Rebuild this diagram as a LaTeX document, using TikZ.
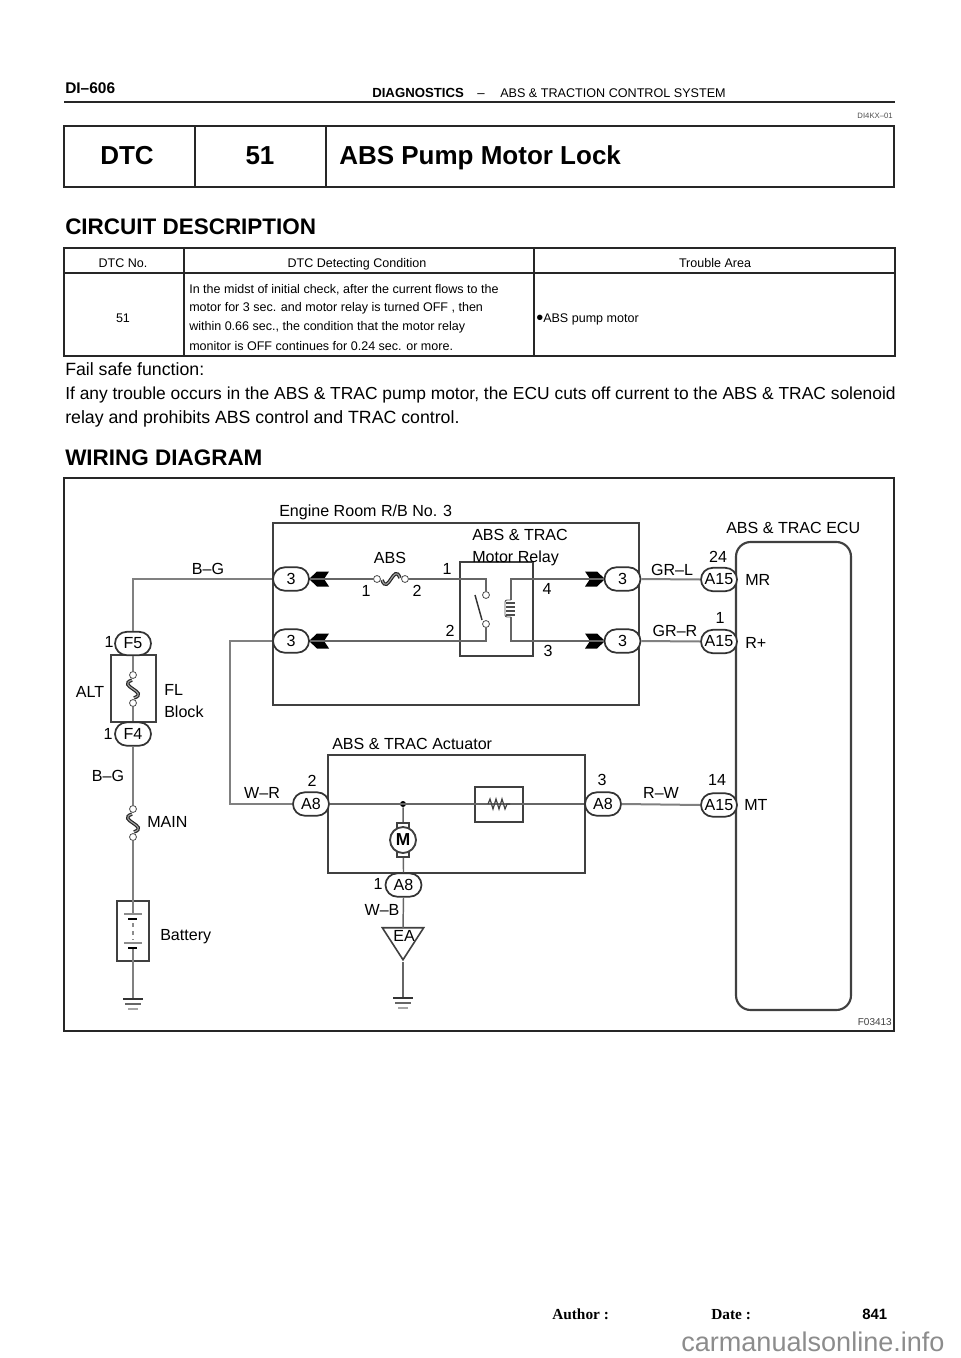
\documentclass[tikz,border=0pt]{standalone}
\usepackage{fontspec}
\setmainfont{Liberation Sans}
\newfontfamily\timesbf[Scale=1]{Liberation Serif}
\usetikzlibrary{shapes.misc,shapes.geometric}
\newcommand{\pxfont}[1]{\fontsize{#1}{#1}\selectfont}
\tikzset{
  wire/.style={draw=black!50,line width=1.5pt},
  thinwire/.style={draw=black!60,line width=1.1pt},
  boxline/.style={draw=black!75,line width=1.6pt},
  rule/.style={draw=black!85,line width=1.2pt},
  lbl/.style={inner sep=0pt,text height=1.5ex,text depth=0pt,font=\pxfont{12.05}},
  tbl/.style={inner sep=0pt,text height=1.5ex,text depth=0pt,font=\pxfont{9.4}},
  body/.style={inner sep=0pt,anchor=west,text height=1.5ex,text depth=0pt,font=\pxfont{13.3}},
  head/.style={inner sep=0pt,anchor=west,text height=1.5ex,text depth=0pt,font=\bfseries\pxfont{16.85}},
  title/.style={inner sep=0pt,text height=14pt,text depth=0pt,font=\bfseries\pxfont{19.5}},
  foot/.style={inner sep=0pt,anchor=west,text height=8pt,text depth=0pt,font=\timesbf\bfseries\pxfont{11.5}},
  pin/.style={rounded rectangle,draw=black!80,line width=1.3pt,fill=white,inner sep=0pt,
    minimum width=27pt,minimum height=17.5pt,font=\pxfont{12.05}},
  dot/.style={circle,draw=black!70,line width=.6pt,fill=white,inner sep=0pt,minimum size=5.2pt},
  motorbody/.style={circle,draw=black!75,line width=1.4pt,fill=white,inner sep=0pt,minimum size=19.5pt,font=\bfseries\pxfont{13}},
  fuseS/.pic={
    \draw[black!85,line width=2.6pt] (-1,-9) .. controls (-17,-3) and (17,3) .. (1,9);
    \draw[black!35,line width=.8pt] (-1,-9) .. controls (-17,-3) and (17,3) .. (1,9);
  },
  socket/.pic={
    \fill[black] (0,0) -- (8,-7.5) -- (20,-7.5) -- (15,0) -- (20,7.5) -- (8,7.5) -- cycle;
  },
  gnd/.pic={
    \draw[black!80,line width=1.2pt] (-10,0) -- (10,0);
    \draw[black!60,line width=1pt] (-8,5) -- (8,5);
    \draw[black!35,line width=1pt] (-5,10) -- (5,10);
  }
}
\begin{document}
\begin{tikzpicture}[x=.75pt,y=-.75pt]
  \useasboundingbox (0,0) rectangle (960,1358);
  % page head
  \node[inner sep=0pt,anchor=west,text height=8pt,text depth=0pt,font=\bfseries\pxfont{11.6}] (pagenum) at (65,88) {DI--606};
  \node[inner sep=0pt,anchor=base west,font=\bfseries\pxfont{9.9}] (pagehead) at (372,98) {DIAGNOSTICS};
  \node[inner sep=0pt,anchor=base,font=\pxfont{9.9}] (pagedash) at (481,98) {--};
  \node[inner sep=0pt,anchor=base west,font=\pxfont{9.45}] (pagesys) at (500,98) {ABS \& TRACTION CONTROL SYSTEM};
  \node[inner sep=0pt,anchor=east,font=\pxfont{5.8},text=black!70] (docid) at (893,116) {DI4KX--01};
  \draw[rule,line width=1.5pt] (64,102) -- (895,102);
  % title box
  \draw[rule,line width=1.5pt] (64,126) rectangle (894,187);
  \draw[rule] (195,126) -- (195,187);
  \draw[rule] (326,126) -- (326,187);
  \node[title] (titleA) at (127,155) {DTC};
  \node[title] (titleB) at (260,155) {51};
  \node[title,anchor=west] (titleC) at (339,155) {ABS Pump Motor Lock};
  \node[head] (circdesc) at (65,229) {CIRCUIT DESCRIPTION};
  % table
  \draw[rule,line width=1.5pt] (64,248) rectangle (895,356);
  \draw[rule] (64,273) -- (895,273);
  \draw[rule,line width=.8pt] (184,248) -- (184,356);
  \draw[rule,line width=.8pt] (534,248) -- (534,356);
  \node[tbl] (colA) at (123,262) {DTC No.};
  \node[tbl] (colB) at (357,262) {DTC Detecting Condition};
  \node[tbl] (colC) at (715,262) {Trouble Area};
  \node[tbl] (cellA) at (123,317) {51};
  \foreach \y/\t [count=\n] in {
    288/{In the midst of initial check, after the current flows to the},
    306/{motor for 3 sec. and motor relay is turned OFF , then},
    325/{within 0.66 sec., the condition that the motor relay},
    345/{monitor is OFF continues for 0.24 sec. or more.}} {
    \node[tbl,anchor=west] (cond\n) at (189,\y) {\t};
  }
  \node[tbl,anchor=west] (cellC) at (536,317) {\raisebox{-1.4pt}{\pxfont{15}\textbullet}ABS pump motor};
  \node[body] (failA) at (65,370) {Fail safe function:};
  \node[body,font=\pxfont{13.05}] (failB) at (65,394) {If any trouble occurs in the ABS \& TRAC pump motor, the ECU cuts off current to the ABS \& TRAC solenoid};
  \node[body] (failC) at (65,418) {relay and prohibits ABS control and TRAC control.};
  \node[head] (wirediag) at (65,460) {WIRING DIAGRAM};
  % diagram frame
  \draw[rule,line width=1.5pt] (64,478) rectangle (894,1031);
  \draw[boxline] (273,523) rectangle (639,705);
  \draw[boxline] (460,562) rectangle (533,656);
  \draw[boxline] (328,755) rectangle (585,873);
  \draw[boxline] (111,655) rectangle (156,722);
  \draw[boxline] (117,901) rectangle (149,961);
  \draw[boxline] (475,787) rectangle (523,822);
  \draw[boxline,rounded corners=11pt] (736,542) rectangle (851,1010);
  % connector pins
  \node[pin] (rbA) at (291,579) {3};
  \node[pin] (rbB) at (291,641) {3};
  \node[pin] (rbC) at (622.5,579) {3};
  \node[pin] (rbD) at (622.5,641) {3};
  \node[pin] (ecuA) at (719,579.5) {A15};
  \node[pin] (ecuB) at (719,641.5) {A15};
  \node[pin] (ecuC) at (719,805) {A15};
  \node[pin] (actA) at (311,804) {A8};
  \node[pin] (actB) at (603,804) {A8};
  \node[pin] (actC) at (403.5,885) {A8};
  \node[pin] (flA) at (133,643.5) {F5};
  \node[pin] (flB) at (133,734) {F4};
  \pic at (309,579) {socket};
  \pic at (309,641) {socket};
  \pic[xscale=-1] at (605,579) {socket};
  \pic[xscale=-1] at (605,641) {socket};
  % fuses and relay points
  \node[dot] (altA) at (133,675) {};
  \node[dot] (altB) at (133,703) {};
  \node[dot] (mainA) at (133,809) {};
  \node[dot] (mainB) at (133,837) {};
  \node[dot] (absA) at (377,579) {};
  \node[dot] (absB) at (405,579) {};
  \node[dot] (swA) at (486,595) {};
  \node[dot] (swB) at (486,624) {};
  \node[circle,fill=black,inner sep=0pt,minimum size=4.5pt] (junc) at (403,804) {};
  \node[isosceles triangle,shape border rotate=-90,isosceles triangle stretches,draw=black!75,line width=1.2pt,
    inner sep=0pt,minimum width=31pt,minimum height=24pt] (ea) at (403,939) {};
  \node[inner sep=0pt,font=\pxfont{12.05}] (ealbl) at (404,936) {EA};
  \coordinate (eaTop) at (403,928);
  \coordinate (gndL) at (133,999);
  \coordinate (gndM) at (403,998);
  \coordinate (batT) at (133,914);
  \coordinate (batB) at (133,948);
  \coordinate (coilT) at (511,600);
  \coordinate (coilB) at (511,617);
  % wires
  \draw[wire] (flA.north) |- (rbA.west);
  \draw[wire] (flA.south) -- (altA);
  \draw[wire] (altB) -- (flB.north);
  \draw[wire] (flB.south) -- (mainA);
  \draw[wire] (mainB) -- (batT);
  \draw[wire] (batB) -- (gndL);
  \draw[wire] (rbB.west) -| (230,804) -- (actA.west);
  \draw[thinwire] (rbA.east) -- (absA);
  \draw[thinwire] (absB) -| (swA.north);
  \draw[thinwire] (rbB.east) -| (swB.south);
  \draw[thinwire] (rbC.west) -| (coilT);
  \draw[thinwire] (rbD.west) -| (coilB);
  \draw[wire] (rbC.east) -- (ecuA.west);
  \draw[wire] (rbD.east) -- (ecuB.west);
  \draw[thinwire] (actA.east) -- (actB.west);
  \draw[wire] (actB.east) -- (ecuC.west);
  \draw[thinwire] (junc) -- (actC.north);
  \draw[thinwire] (actC.south) -- (eaTop);
  \draw[thinwire] (ea.apex) -- (gndM);
  % symbols
  \draw[black!80,line width=1.1pt] (475,595) -- (482,620);
  \draw[black!65,line width=.7pt,rounded corners=1.5pt] (511,600) -- (505,600) -- (505,617) -- (511,617);
  \foreach \y in {603,607,611,615} {
    \draw[black!70,line width=1pt] (506,\y) -- (515,\y);
  }
  \pic at (133,689) {fuseS};
  \pic at (133,823) {fuseS};
  \pic[rotate=-90] at (391,579) {fuseS};
  \draw[black!75,line width=.9pt] (488,804) -- (490,799) -- (493,809) -- (496,799) -- (499,809) -- (502,799) -- (505,809) -- (507,804) -- (510,804);
  \draw[black!75,line width=.9pt,fill=white] (397,823) rectangle (409,828);
  \draw[black!75,line width=.9pt,fill=white] (397,852) rectangle (409,857);
  \node[motorbody] (motor) at (403,840) {M};
  % battery
  \foreach \y in {914,943} {
    \draw[black!45,line width=.9pt] (124,\y) -- (142,\y);
  }
  \foreach \y in {919,948} {
    \draw[black,line width=1.6pt] (128,\y) -- (137,\y);
  }
  \draw[black!45,line width=.9pt,dashed] (133,923) -- (133,940);
  \pic at (133,999) {gnd};
  \pic at (403,998) {gnd};
  % diagram labels
  \foreach \x/\y/\t [count=\n] in {
    208/569/B--G, 109/642/1, 90/692/ALT, 108/734/1, 108/776/B--G, 390/558/ABS,
    366/591/1, 417/591/2, 447/569/1, 450/631/2, 547/589/4, 548/651/3,
    672/570/GR--L, 675/631/GR--R, 661/793/R--W, 718/557/24, 720/618/1, 717/780/14,
    262/793/W--R, 312/781/2, 602/780/3, 378/884/1, 382/910/W--B} {
    \node[lbl] (lab\n) at (\x,\y) {\t};
  }
  \foreach \x/\y/\t [count=\n] in {
    164/690/FL, 164/712/Block, 147/822/MAIN, 160/935/Battery, 279/511/Engine Room R\slash B No. 3,
    472/535/ABS \& TRAC, 472/557/Motor Relay, 332/744/ABS \& TRAC Actuator, 726/528/ABS \& TRAC ECU,
    745/580/MR, 745/643/R+, 744/805/MT} {
    \node[lbl,anchor=west] (name\n) at (\x,\y) {\t};
  }
  \node[inner sep=0pt,anchor=east,font=\pxfont{7.5},text=black!75] (figno) at (892,1022) {F03413};
  % page foot
  \node[foot] (authorlbl) at (552,1314) {Author :};
  \node[foot] (datelbl) at (711,1314) {Date :};
  \node[foot,font=\bfseries\pxfont{11.2}] (pagefoot) at (862,1314) {841};
  \node[inner sep=0pt,anchor=west,font=\pxfont{20.3},text=black!45] (site) at (681,1342) {carmanualsonline.info};
\end{tikzpicture}
\end{document}
